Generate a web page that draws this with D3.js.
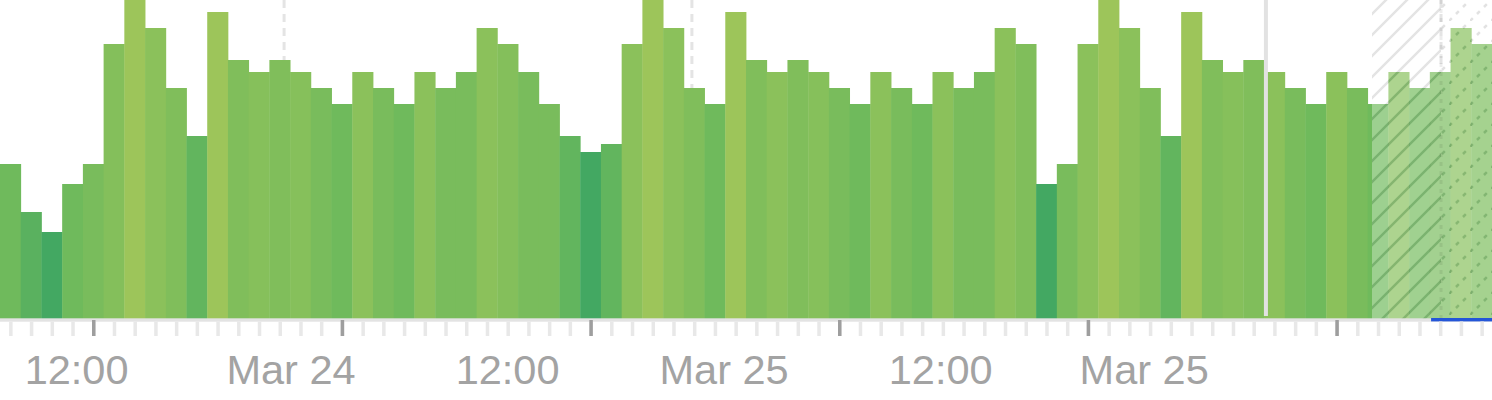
<!DOCTYPE html>
<html>
<head>
<meta charset="utf-8">
<script src="https://cdn.jsdelivr.net/npm/d3@7"></script>
<style>
  body { margin: 0; background: #fff; }
  svg { display: block; }
</style>
</head>
<body>
<div id="chart"></div>
<script>
// one bar per hour, 72 hours
var values = [39, 27, 22, 34, 39, 69, 80, 73, 58, 46,
              77, 65, 62, 65, 62, 58, 54, 62, 58, 54,
              62, 58, 62, 73, 69, 62, 54, 46, 42, 44,
              69, 80, 73, 58, 54, 77, 65, 62, 65, 62,
              58, 54, 62, 58, 54, 62, 58, 62, 73, 69,
              34, 39, 69, 80, 73, 58, 46, 77, 65, 62,
              65, 62, 58, 54, 62, 58, 54, 62, 58, 62,
              73, 69];

// second measure, shown as colour (0 = dark green, 100 = yellow green)
var intensity = [50, 26, 0, 50, 61, 73, 100, 80, 68, 35,
                 100, 68, 75, 68, 75, 61, 50, 80, 61, 50,
                 80, 61, 61, 80, 73, 61, 61, 35, 0, 35,
                 80, 100, 80, 68, 50, 100, 68, 80, 68, 75,
                 61, 50, 80, 61, 50, 80, 61, 61, 80, 68,
                 0, 61, 80, 100, 80, 68, 35, 100, 68, 75,
                 68, 80, 61, 50, 80, 61, 50, 75, 55, 60,
                 75, 63];

var tickLabels = ["12:00", "Mar 24", "12:00", "Mar 25", "12:00", "Mar 25"];
var labelHours = [3.67, 14.02, 24.47, 34.92, 45.37, 55.19];

var dashedHours = [13.71, 33.39];
var cursorHour = 61.09;
var nowHour = 66.21;
var forecastHour = 69.54;
var blueStartHour = 69.06;

var W = 1492, H = 400, baseY = 320;

var x = d3.scaleLinear().domain([0, values.length]).range([0, W]);
var y = d3.scaleLinear().domain([0, 80]).range([baseY, 0]);
var color = d3.scaleLinear().domain([0, 50, 100]).range(["#43a862", "#6fba5c", "#9dc55a"]);
var faded = function(d) { return d3.interpolateRgb(color(d), "#ffffff")(0.32); };

var svg = d3.select("#chart").append("svg")
    .attr("width", W)
    .attr("height", H);

var defs = svg.append("defs");

// diagonal stripes, solid or dashed
function stripes(id, stroke, dash) {
    var p = defs.append("pattern")
        .attr("id", id)
        .attr("patternUnits", "userSpaceOnUse")
        .attr("width", 21)
        .attr("height", 21);
    var path = p.append("path")
        .attr("fill", "none")
        .attr("stroke", stroke)
        .attr("stroke-width", 2.5);
    if (dash) {
        path.attr("d", "M0,21 L21,0").attr("stroke-dasharray", dash);
    } else {
        path.attr("d", "M0,21 L21,0 M-3,3 L3,-3 M18,24 L24,18");
    }
}
stripes("hatchGray", "#e4e4e4");
stripes("hatchGreen", "rgba(30,100,30,0.28)");
stripes("dotsGray", "#e2e2e2", "4 5.9");
stripes("dotsGreen", "rgba(30,100,30,0.26)", "4 5.9");

function clip(id, x0, x1) {
    defs.append("clipPath").attr("id", id)
        .append("rect")
        .attr("x", x0).attr("y", 0)
        .attr("width", x1 - x0).attr("height", H);
}
clip("clipPast", 0, x(nowHour));
clip("clipHatch", x(nowHour), x(forecastHour));
clip("clipDots", x(forecastHour), W);
clip("clipFuture", x(nowHour), W);

// dashed day markers behind the bars
svg.append("g").selectAll("line")
    .data(dashedHours.concat([forecastHour]))
    .enter().append("line")
    .attr("x1", function(d) { return x(d); })
    .attr("x2", function(d) { return x(d); })
    .attr("y1", 0)
    .attr("y2", baseY)
    .attr("stroke", "#e4e4e4")
    .attr("stroke-width", 3)
    .attr("stroke-dasharray", "8 6");

// forecast background
svg.append("rect")
    .attr("x", x(nowHour)).attr("y", 0)
    .attr("width", x(forecastHour) - x(nowHour)).attr("height", baseY)
    .attr("fill", "url(#hatchGray)");
svg.append("rect")
    .attr("x", x(forecastHour)).attr("y", 0)
    .attr("width", W - x(forecastHour)).attr("height", baseY)
    .attr("fill", "url(#dotsGray)");

var idx = d3.range(values.length);

function bars(g, fill) {
    g.selectAll("rect")
        .data(idx)
        .enter().append("rect")
        .attr("x", function(i) { return x(i); })
        .attr("y", function(i) { return y(values[i]); })
        .attr("width", function(i) { return x(i + 1) - x(i) + 0.4; })
        .attr("height", function(i) { return baseY - y(values[i]); })
        .attr("fill", fill);
}

bars(svg.append("g").attr("clip-path", "url(#clipPast)"),
    function(i) { return color(intensity[i]); });
bars(svg.append("g").attr("clip-path", "url(#clipFuture)"),
    function(i) { return faded(intensity[i]); });
bars(svg.append("g").attr("clip-path", "url(#clipHatch)"), "url(#hatchGreen)");
bars(svg.append("g").attr("clip-path", "url(#clipDots)"), "url(#dotsGreen)");

svg.append("line")
    .attr("x1", x(forecastHour)).attr("x2", x(forecastHour))
    .attr("y1", 0).attr("y2", baseY)
    .attr("stroke", "rgba(0,0,0,0.07)")
    .attr("stroke-width", 3)
    .attr("stroke-dasharray", "4 5");

// cursor line
svg.append("rect")
    .attr("x", x(cursorHour) - 2).attr("y", 0)
    .attr("width", 4).attr("height", 316)
    .attr("fill", "#e2e2e2");

// baseline
svg.append("rect")
    .attr("x", 0).attr("y", 318.3)
    .attr("width", W).attr("height", 3.4)
    .attr("fill", "#e3e3e3");
svg.append("rect")
    .attr("x", x(blueStartHour)).attr("y", 318)
    .attr("width", W - x(blueStartHour)).attr("height", 3.4)
    .attr("fill", "#2456d8");

// hourly ticks
var minor = svg.append("g")
    .attr("transform", "translate(0,321.5)")
    .call(d3.axisBottom(x)
        .tickValues(idx.map(function(i) { return i + 0.5; }))
        .tickSize(14.5)
        .tickFormat(""));
minor.select(".domain").remove();
minor.selectAll("line").attr("stroke", "#e8e8e8").attr("stroke-width", 3.5);

var major = svg.append("g")
    .attr("transform", "translate(0,320)")
    .call(d3.axisBottom(x)
        .tickValues(idx.filter(function(i) { return i % 12 == 4; }).map(function(i) { return i + 0.5; }))
        .tickSize(16)
        .tickFormat(""));
major.select(".domain").remove();
major.selectAll("line").attr("stroke", "#9e9e9e").attr("stroke-width", 3.5);

var labels = svg.append("g")
    .attr("transform", "translate(0,384)")
    .call(d3.axisBottom(x)
        .tickValues(labelHours)
        .tickSize(0)
        .tickFormat(function(d, i) { return tickLabels[i]; }));
labels.select(".domain").remove();
labels.attr("font-family", "'Liberation Sans', Arial, sans-serif").attr("font-size", 41.5);
labels.selectAll("text")
    .attr("y", 0)
    .attr("dy", null)
    .attr("fill", "#a3a3a3");
</script>
</body>
</html>
